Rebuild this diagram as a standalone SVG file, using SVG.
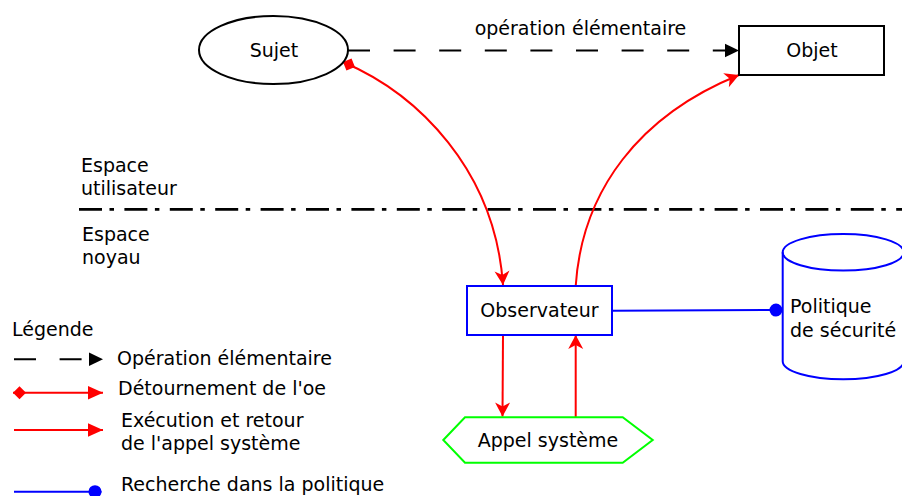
<svg xmlns="http://www.w3.org/2000/svg" width="902" height="496" viewBox="0 0 902 496">
  <style>
    text { font-family: "DejaVu Sans", "Liberation Sans", sans-serif; font-size: 19px; fill: #000; }
    .mid { text-anchor: middle; }
    .black { fill: none; stroke: #000; stroke-width: 2; }
    .red { fill: none; stroke: #ff0000; stroke-width: 2; }
    .blue { fill: none; stroke: #0000ff; stroke-width: 2; }
    .green { fill: none; stroke: #00ff00; stroke-width: 2; }
    .dashed { stroke-dasharray: 22 23.6; }
    .boundary { fill: none; stroke: #000; stroke-width: 2.8; stroke-dasharray: 23 7.5 4.5 10.4; }
  </style>
  <defs>
    <!-- filled triangle head, tip at the path end -->
    <marker id="triBlack" markerUnits="userSpaceOnUse" viewBox="-15 -8 16 16" markerWidth="16" markerHeight="16" refX="0" refY="0" orient="auto">
      <path d="M0,0 L-14,-6.7 L-14,6.7 Z" fill="#000"/>
    </marker>
    <marker id="triRed" markerUnits="userSpaceOnUse" viewBox="-16 -8 17 16" markerWidth="17" markerHeight="16" refX="0" refY="0" orient="auto">
      <path d="M0,0 L-15,-6.7 L-15,6.7 Z" fill="#ff0000"/>
    </marker>
    <!-- notched arrow head used on the diagram connectors -->
    <marker id="notchRed" markerUnits="userSpaceOnUse" viewBox="-15 -9 16 18" markerWidth="16" markerHeight="18" refX="0" refY="0" orient="auto">
      <path d="M0,0 L-14,-7.5 L-10,0 L-14,7.5 Z" fill="#ff0000"/>
    </marker>
    <!-- diamond tail at the path start -->
    <marker id="diamondRed" markerUnits="userSpaceOnUse" viewBox="-1 -8 16 16" markerWidth="16" markerHeight="16" refX="0" refY="0" orient="auto">
      <path d="M0,0 L6.5,-6.5 L13,0 L6.5,6.5 Z" fill="#ff0000"/>
    </marker>
    <!-- round end for policy lookup -->
    <marker id="dotBlue" markerUnits="userSpaceOnUse" viewBox="-14 -8 16 16" markerWidth="16" markerHeight="16" refX="0" refY="0" orient="auto">
      <circle cx="-6.5" cy="0" r="6.5" fill="#0000ff"/>
    </marker>
  </defs>

  <rect width="902" height="496" fill="#fff"/>

  <!-- user space / kernel space boundary -->
  <g id="boundary">
    <path class="boundary" d="M79,209.3 L902,209.3"/>
    <text x="81" y="172.3">Espace</text>
    <text x="81" y="195.3">utilisateur</text>
    <text x="82" y="240.7">Espace</text>
    <text x="82" y="263.7">noyau</text>
  </g>

  <g id="connectors">
    <path class="black dashed" d="M348,50.5 L739,50.5" marker-end="url(#triBlack)"/>
    <text class="mid" x="580.5" y="35">opération élémentaire</text>
    <path class="red" d="M343,62 C418,94 495,170 503,285" marker-start="url(#diamondRed)" marker-end="url(#notchRed)"/>
    <path class="red" d="M575.7,286 C582,190 640,115 739,75" marker-end="url(#notchRed)"/>
    <path class="red" d="M503,335 L502.5,416.5" marker-end="url(#notchRed)"/>
    <path class="red" d="M575.7,417 L575.7,335" marker-end="url(#notchRed)"/>
    <path class="blue" d="M612,310.7 L782.5,310" marker-end="url(#dotBlue)"/>
  </g>

  <g id="node-sujet">
    <ellipse class="black" cx="273.5" cy="50" rx="74.5" ry="34"/>
    <text class="mid" x="274" y="57.3">Sujet</text>
  </g>

  <g id="node-objet">
    <rect class="black" x="739" y="26" width="145" height="49"/>
    <text class="mid" x="812" y="57">Objet</text>
  </g>

  <g id="node-observateur">
    <rect class="blue" x="467" y="286" width="145" height="49"/>
    <text class="mid" x="539.5" y="317">Observateur</text>
  </g>

  <g id="node-appel">
    <polygon class="green" points="443.3,440 465,417.3 622.7,417.3 652.7,440 622.7,462.7 465,462.7"/>
    <text class="mid" x="548" y="447">Appel système</text>
  </g>

  <g id="node-politique">
    <path class="blue" d="M782.7,252.3 L782.7,361.3 A60.5,18 0 0 0 903.7,361.3 L903.7,252.3"/>
    <ellipse class="blue" cx="843.2" cy="252.3" rx="60.5" ry="18.3"/>
    <text x="790" y="313.3">Politique</text>
    <text x="790" y="336.7">de sécurité</text>
  </g>

  <g id="legend">
    <text x="12" y="336">Légende</text>
    <path class="black dashed" d="M14,359.3 L103,359.3" marker-end="url(#triBlack)"/>
    <text x="117" y="365">Opération élémentaire</text>
    <path class="red" d="M13,392.7 L103,392.7" marker-start="url(#diamondRed)" marker-end="url(#triRed)"/>
    <text x="118" y="395">Détournement de l'oe</text>
    <path class="red" d="M14,430 L103,430" marker-end="url(#triRed)"/>
    <text x="121" y="426.7">Exécution et retour</text>
    <text x="121" y="450">de l'appel système</text>
    <path class="blue" d="M14,491.7 L101.5,491.7" marker-end="url(#dotBlue)"/>
    <text x="121" y="491">Recherche dans la politique</text>
  </g>
</svg>
